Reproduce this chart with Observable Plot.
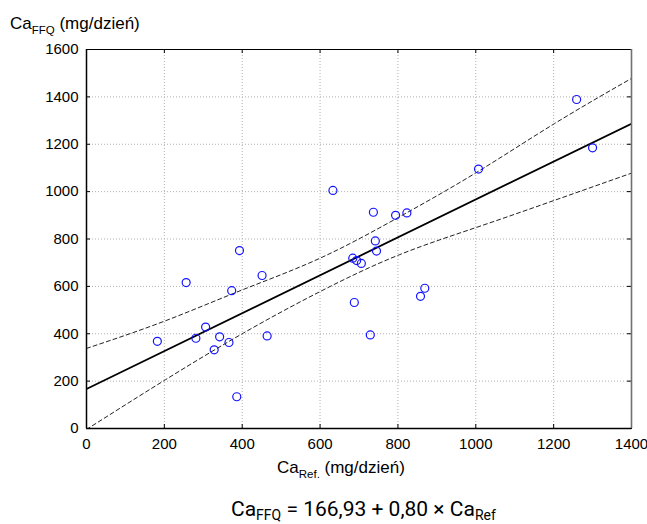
<!DOCTYPE html>
<html><head><meta charset="utf-8">
<script src="https://cdn.jsdelivr.net/npm/d3@7"></script>
<script src="https://cdn.jsdelivr.net/npm/@observablehq/plot@0.6"></script>
<style>
body{margin:0;background:#fff;}
#wrap{width:647px;height:524px;overflow:hidden;}
</style></head>
<body><div id="wrap"></div>
<script>
// Data
const caRef = [182, 256, 393, 451, 373, 306, 281, 342, 366, 328, 464, 386,
               633, 737, 794, 823, 742, 745, 684, 694, 706, 688, 729, 858, 869,
               1007, 1259, 1300];
const caFFQ = [368, 616, 751, 646, 582, 428, 381, 387, 363, 332, 391, 134,
               1005, 913, 900, 910, 792, 749, 719, 709, 697, 532, 395, 558, 592,
               1095, 1389, 1185];
const xTicks = [0, 200, 400, 600, 800, 1000, 1200, 1400];
const yTicks = [0, 200, 400, 600, 800, 1000, 1200, 1400, 1600];
const intercept = 166.93;
const slope = 0.80;
const bandX = [0, 200, 400, 600, 800, 1000, 1200, 1400];
const bandUpper = [338, 453, 585, 719, 890, 1079, 1285, 1478];
const bandLower = [-4, 203, 400, 578, 731, 848, 962, 1078];
const yTitle = ["Ca", "FFQ", " (mg/dzień)"];
const xTitle = ["Ca", "Ref.", " (mg/dzień)"];
const equation = ["Ca", "FFQ", " = 166,93 + 0,80 × Ca", "Ref"];

const W = 647, H = 524, mL = 86, mR = 16, mT = 49, mB = 96;
const innerH = H - mT - mB;
const innerW = W - mL - mR;

const pts = caRef.map((x, i) => ({x, y: caFFQ[i]}));
const reg = [xTicks[0], xTicks[xTicks.length - 1]].map(x => ({x, y: intercept + slope * x}));
const band = bandX.map((x, i) => ({x, u: bandUpper[i], l: bandLower[i]}));

const chart = Plot.plot({
  width: W, height: H,
  marginLeft: mL, marginRight: mR, marginTop: mT, marginBottom: mB,
  style: {fontFamily: "Liberation Sans, Arial, sans-serif", fontSize: "15px", color: "#000", background: "#fff", overflow: "visible"},
  x: {domain: [0, 1400], label: null},
  y: {domain: [0, 1600], label: null},
  marks: [
    Plot.gridX({ticks: xTicks.slice(1, -1), stroke: "#b0b0b0", strokeOpacity: 1, strokeDasharray: "1,2"}),
    Plot.gridY({ticks: yTicks.slice(1, -1), stroke: "#b0b0b0", strokeOpacity: 1, strokeDasharray: "1,2"}),
    Plot.axisX({ticks: xTicks, tickSize: 0, tickPadding: 10, label: null, tickFormat: d => String(d)}),
    Plot.axisY({ticks: yTicks, tickSize: 0, tickPadding: 8, label: null, tickFormat: d => String(d)}),
    Plot.tickX(xTicks, {x: d => d, insetTop: innerH - 4, stroke: "#000"}),
    Plot.tickX(xTicks, {x: d => d, insetBottom: innerH - 4, stroke: "#000"}),
    Plot.tickY(yTicks, {y: d => d, insetRight: innerW - 4, stroke: "#000"}),
    Plot.tickY(yTicks, {y: d => d, insetLeft: innerW - 4, stroke: "#000"}),
    Plot.line(band, {x: "x", y: "u", curve: "natural", stroke: "#222", strokeWidth: 1, strokeDasharray: "4,3", clip: true}),
    Plot.line(band, {x: "x", y: "l", curve: "natural", stroke: "#222", strokeWidth: 1, strokeDasharray: "4,3", clip: true}),
    Plot.line(reg, {x: "x", y: "y", stroke: "#000", strokeWidth: 1.8, clip: true}),
    Plot.dot(pts, {x: "x", y: "y", r: 4, stroke: "#1414ff", strokeWidth: 1.2, fill: "none"}),
    Plot.frame({stroke: "#000", strokeWidth: 1}),
    Plot.ruleX([1400], {stroke: "#707070", strokeWidth: 1.6}),
    Plot.ruleX([0], {stroke: "#000", strokeWidth: 1.5}),
    Plot.ruleY([0], {stroke: "#000", strokeWidth: 1.5})
  ]
});
document.getElementById("wrap").appendChild(chart);

const svg = d3.select(chart);
function addLabel(x, y, parts, size, subSize, family, subShift) {
  const t = svg.append("text").attr("x", x).attr("y", y)
    .attr("text-anchor", "start")
    .attr("font-family", family).attr("fill", "#000").style("white-space", "pre");
  parts.forEach((p, i) => {
    const isSub = i % 2 === 1;
    const ts = t.append("tspan").text(p).attr("font-size", isSub ? subSize : size);
    if (i > 0) ts.attr("dy", isSub ? subShift : -subShift);
  });
}
addLabel(10, 29, yTitle, 17, 11.5, "Liberation Sans, Arial, sans-serif", 5);
addLabel(277, 473, xTitle, 17, 11.5, "Liberation Sans, Arial, sans-serif", 5);
addLabel(231, 516, equation, 21, 14, "Roboto, Liberation Sans, sans-serif", 4);
</script>
</body></html>
